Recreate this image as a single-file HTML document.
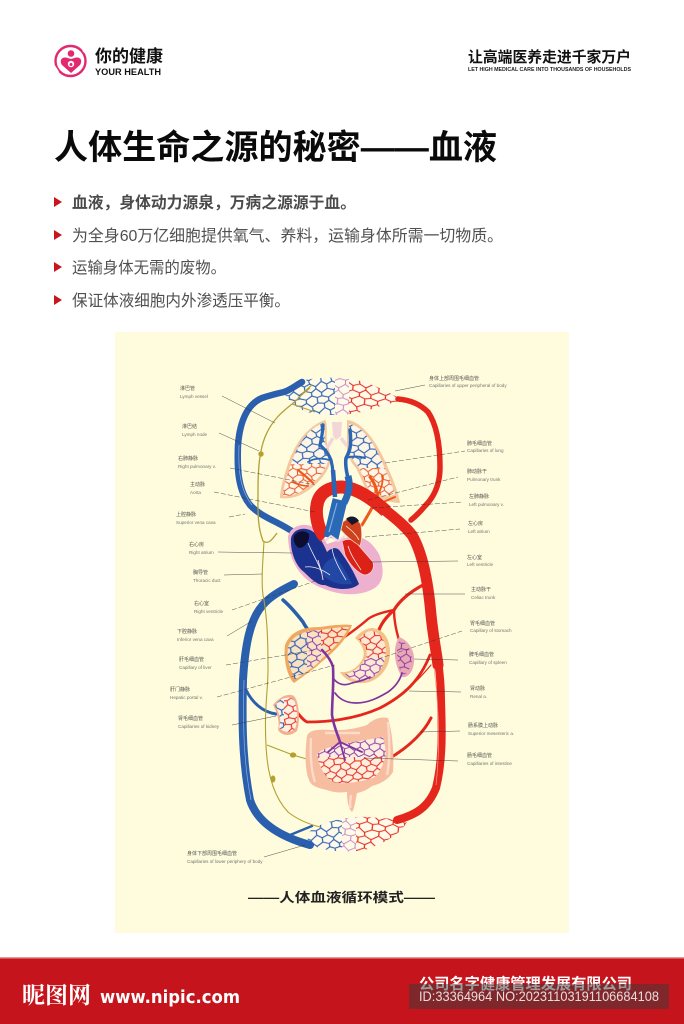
<!DOCTYPE html>
<html><head><meta charset="utf-8"><style>
html,body{margin:0;padding:0;background:#fff}
svg{display:block}
text{font-family:"Liberation Sans","Noto Sans CJK SC",sans-serif}
.cn{font-size:5px;fill:#444}
.en{font-size:4.6px;fill:#666}
.ld{stroke:#333;stroke-width:.5;fill:none;opacity:.85}
.dash{stroke-dasharray:5 2}
</style></head><body>
<svg width="684" height="1024" viewBox="0 0 684 1024" xmlns="http://www.w3.org/2000/svg">
<defs>
<filter id="b" x="-5%" y="-5%" width="110%" height="110%"><feGaussianBlur stdDeviation=".3"/></filter>
<filter id="t" x="-5%" y="-5%" width="110%" height="110%"><feGaussianBlur stdDeviation=".18"/></filter>
<path id="mesh" fill="none" d="M0 3L4.5 1L9 4L14 0L18 3M0 7L5 9L9 6L13 10L18 7M0 15L5 12L9 14L13 13L18 15M0 18L4 22L9 19L14 20L18 18M0 3V7M18 3V7M9 4V6M5 9V12M13 10V13M0 15V18M18 15V18M9 14V19M4 22L4.5 25M14 20V24M4 -2L4.5 1M14 -4V0"/>
<pattern id="nr" width="18" height="24" patternUnits="userSpaceOnUse" patternTransform="rotate(6) scale(1.45 1.1)"><use href="#mesh" stroke="#e6281c" stroke-width=".85"/></pattern>
<pattern id="nb" width="18" height="24" patternUnits="userSpaceOnUse" patternTransform="rotate(-8) scale(1.25 1.1)"><use href="#mesh" stroke="#2c5fb0" stroke-width=".95"/></pattern>
<pattern id="np" width="18" height="24" patternUnits="userSpaceOnUse" patternTransform="rotate(4) scale(1.1 1)"><use href="#mesh" stroke="#8a3aa8" stroke-width=".95"/></pattern>
<pattern id="nm" width="18" height="24" patternUnits="userSpaceOnUse" patternTransform="rotate(5) scale(1.25 1.05)"><use href="#mesh" stroke="#c583c4" stroke-width=".8"/></pattern>
<pattern id="nr2" width="18" height="24" patternUnits="userSpaceOnUse" patternTransform="rotate(-10) scale(1.15 1)"><use href="#mesh" stroke="#e6281c" stroke-width=".95"/></pattern>
<pattern id="no" width="18" height="24" patternUnits="userSpaceOnUse" patternTransform="rotate(-5) scale(1.05 1)"><use href="#mesh" stroke="#e9521e" stroke-width=".95"/></pattern>
<clipPath id="cTop"><path d="M284 393C292 387 298 382 305 380C320 377 340 377 355 380C368 382 378 387 403 400C392 403 385 405 377 407C365 412 350 415 337 415C325 415 315 414 307 412C298 408 292 405 284 393Z"/></clipPath>
<clipPath id="cBot"><path d="M309 832C318 823 345 816 367 817L408 820C402 832 390 841 365 850C345 853 325 852 307 843Z"/></clipPath>
<clipPath id="cLL"><path d="M323 423C305 430 295 450 289 470C285 482 283 490 283 496C295 497 305 490 316 480C322 474 326 468 328 462C329 455 327 448 325 444C324 435 326 425 323 423Z"/></clipPath>
<clipPath id="cRL"><path d="M349 424C362 425 375 445 382 462C388 475 392 485 395 494C388 498 378 495 370 492C366 484 362 474 358 466C352 460 348 452 349 444Z"/></clipPath>
<clipPath id="cLiv"><path d="M288 647C292 636 302 631 320 630C332 628 342 627 349 627C340 645 325 655 316 665L295 680C291 670 286 660 288 647Z"/></clipPath>
<clipPath id="cSt"><path d="M372 631C380 632 385 640 386 650C386 665 378 676 368 680C358 682 348 678 345 674C352 673 360 668 366 658C368 652 366 644 358 640C362 635 366 631 372 631Z"/></clipPath>
<clipPath id="cSp"><path d="M400 640C406 642 412 650 412 660C411 668 407 675 402 675C398 665 394 650 400 640Z"/></clipPath>
<clipPath id="cKid"><path d="M275 706C279 698 288 696 293 699C298 705 298 722 295 729C290 733 283 733 279 727C282 720 279 712 275 706Z"/></clipPath>
<clipPath id="cInt"><path d="M317 755C320 748 335 745 383 737C386 748 386 755 385 758C382 768 378 775 373 778C360 782 345 784 337 783C328 782 320 770 317 755Z"/></clipPath>
</defs>
<rect width="684" height="1024" fill="#fff"/>

<!-- header -->
<circle cx="70.500" cy="61" r="15" fill="none" stroke="#e2286e" stroke-width="2.400"/>
<path d="M83 50L88 55M54 66L58 72" stroke="#fff" stroke-width="2.200"/>
<circle cx="71" cy="53.500" r="3.300" fill="#e2286e"/>
<path d="M71 73L62 65C59 60 62 57 66 57.500L71 59L76 57.500C80 57 83 60 80 65Z" fill="#e2286e"/>
<circle cx="71" cy="64" r="3.200" fill="#fff"/>
<circle cx="71" cy="64.500" r="1.500" fill="#e2286e"/>
<text x="95" y="62" font-size="17" font-weight="700" fill="#111" textLength="68" lengthAdjust="spacingAndGlyphs">你的健康</text>
<text x="95" y="75" font-size="9.500" font-weight="700" fill="#111" textLength="66" lengthAdjust="spacingAndGlyphs">YOUR HEALTH</text>
<text x="468" y="62" font-size="14.800" font-weight="700" fill="#111" textLength="163" lengthAdjust="spacingAndGlyphs">让高端医养走进千家万户</text>
<text x="468" y="71" font-size="5.600" font-weight="700" fill="#222" textLength="163" lengthAdjust="spacingAndGlyphs">LET HIGH MEDICAL CARE INTO THOUSANDS OF HOUSEHOLDS</text>

<!-- title -->
<text x="54" y="159" font-size="34" font-weight="700" fill="#0a0a0a" textLength="443" lengthAdjust="spacingAndGlyphs">人体生命之源的秘密——血液</text>

<!-- bullets -->
<g fill="#c9151c"><path d="M54 197L62 202L54 207Z"/><path d="M54 230L62 235L54 240Z"/><path d="M54 262L62 267L54 272Z"/><path d="M54 295L62 300L54 305Z"/></g>
<text x="72" y="208" font-size="15.800" font-weight="700" fill="#4a4a4a" textLength="284" lengthAdjust="spacingAndGlyphs">血液，身体动力源泉，万病之源源于血。</text>
<text x="72" y="241" font-size="15.800" fill="#505050" textLength="431" lengthAdjust="spacingAndGlyphs">为全身60万亿细胞提供氧气、养料，运输身体所需一切物质。</text>
<text x="72" y="273" font-size="15.800" fill="#505050" textLength="154" lengthAdjust="spacingAndGlyphs">运输身体无需的废物。</text>
<text x="72" y="306" font-size="15.800" fill="#505050" textLength="218" lengthAdjust="spacingAndGlyphs">保证体液细胞内外渗透压平衡。</text>

<!-- panel -->
<rect x="115" y="332" width="454" height="601" fill="#fefcdc"/>

<g filter="url(#b)">
<!-- top bed -->
<path d="M284 393C292 387 298 382 305 380C320 377 340 377 355 380C368 382 378 387 403 400C392 403 385 405 377 407C365 412 350 415 337 415C325 415 315 414 307 412C298 408 292 405 284 393Z" fill="#fffbe8"/>
<g clip-path="url(#cTop)">
<rect x="280" y="372" width="55" height="46" fill="url(#nb)"/>
<rect x="335" y="372" width="14" height="46" fill="url(#nm)"/>
<rect x="349" y="372" width="58" height="46" fill="url(#nr)"/>
</g>
<!-- bottom bed -->
<path d="M309 832C318 823 345 816 367 817L408 820C402 832 390 841 365 850C345 853 325 852 307 843Z" fill="#fffbe8"/>
<g clip-path="url(#cBot)">
<rect x="300" y="812" width="42" height="45" fill="url(#nb)"/>
<rect x="342" y="812" width="14" height="45" fill="url(#nm)"/>
<rect x="356" y="812" width="56" height="45" fill="url(#nr)"/>
</g>

<!-- blue main vessels -->
<g fill="none" stroke="#2a5fae" stroke-linecap="round">
<path d="M302 382C295 386 290 390 284 392C275 394 268 396 262 398C248 404 240 420 238 445C237 470 238 490 250 505C262 518 280 522 296 534" stroke-width="6.500"/>
<path d="M294 584C282 590 270 596 262 606C250 620 245 645 243 680C242 720 242 760 250 800C258 825 285 838 310 845" stroke-width="8"/>
<path d="M283 600C290 606 296 613 303 622C305 626 307 628 309 632" stroke-width="3.500"/>
<path d="M246 690C252 702 262 712 276 714" stroke-width="3"/>
<path d="M290 835L312 826" stroke-width="2.400"/>
</g>
<g fill="none" stroke="#a8c4e8" stroke-width=".7" opacity=".8">
<path d="M239 445C238 470 240 490 252 505"/><path d="M244 680C243 720 243 760 251 800"/>
</g>

<!-- red main vessels -->
<g fill="none" stroke="#e4261c" stroke-linecap="round">
<path d="M398 399C410 400 420 404 428 412C437 425 440 445 440 467C440 485 434 497 425 506C420 512 416 516 411 520" stroke-width="5.500"/>
<path d="M385 510C395 518 404 525 412 535C422 552 428 580 431 615C433 635 436 650 438 665" stroke-width="11"/>
<path d="M438 660C440 675 441 690 441 700C442 730 443 760 436 788C428 808 415 815 397 820" stroke-width="8"/>
<path d="M423 585C410 592 400 600 394 610C385 618 380 625 378 633" stroke-width="3.200"/>
<path d="M394 610C394 620 396 630 399 640" stroke-width="2.400"/>
<path d="M394 610C385 612 375 614 368 619C358 628 345 637 330 647" stroke-width="2.400"/>
<path d="M430 655C420 680 405 695 380 708C360 717 335 722 307 722C303 720 300 716 297 712" stroke-width="2.800"/>
<path d="M431 718C425 730 412 745 390 758C384 765 380 769 375 773" stroke-width="3"/>
<path d="M431 665C420 678 412 686 405 690" stroke-width="1.200"/>
</g>
<path d="M434 668C438 700 441 740 436 785" fill="none" stroke="#ff9a80" stroke-width=".7"/>

<!-- lymph -->
<g fill="none" stroke="#b39f35" stroke-width="1.100">
<path d="M312 385C303 392 298 400 292 404C282 412 272 420 265 437C260 450 258 465 258 490C258 510 257 525 263 541C268 545 272 540 277 533" stroke-width="1.300"/>
<path d="M264 541C263 560 261 580 263 595C268 620 268 650 268 670C268 690 264 710 266 745C267 770 272 795 288 812C298 820 308 824 320 827"/>
<path d="M267 745L293 755L320 763"/>
<path d="M292 404L315 412M298 398L310 388"/>
</g>
<g fill="#b79f2e"><circle cx="261" cy="454" r="2.700"/><ellipse cx="293" cy="755" rx="3.200" ry="2.600"/><ellipse cx="273" cy="779" rx="2.400" ry="3.500"/></g>

<!-- lungs -->
<path d="M325 420C303 428 292 450 286 470C282 482 280 492 280 498C295 500 307 493 318 482C324 476 328 470 330 463C331 455 329 448 327 444C326 435 328 423 325 420Z" fill="#f4c79e"/>
<g clip-path="url(#cLL)">
<rect x="283" y="420" width="50" height="80" fill="#fdf5e6"/>
<rect x="283" y="420" width="50" height="44" fill="url(#nb)"/>
<rect x="283" y="464" width="50" height="36" fill="url(#no)"/>
</g>
<path d="M347 420C362 421 377 443 385 461C392 477 398 490 400 503C390 503 378 498 368 494C364 485 360 476 356 468C350 462 346 452 347 444Z" fill="#f4c79e"/>
<g clip-path="url(#cRL)">
<rect x="345" y="420" width="55" height="80" fill="#fdf5e6"/>
<rect x="345" y="420" width="55" height="48" fill="url(#nb)"/>
<rect x="345" y="468" width="55" height="34" fill="url(#no)"/>
</g>
<path d="M332 422H342L341 436L336 440L333 436Z" fill="#f3d6d6"/>
<path d="M333 438L327 448M341 438L347 446" stroke="#f3d6d6" stroke-width="3.500"/>

<!-- pulmonary blue -->
<g fill="none" stroke="#2a66b5" stroke-linecap="round">
<path d="M333 490C333 480 334 472 331 460C328 452 323 448 320 445C322 436 323 430 323 425" stroke-width="3.200"/>
<path d="M330 460C322 458 314 458 308 462" stroke-width="1.800"/>
<path d="M348 478C346 470 345 464 346 458C349 452 352 448 350 430" stroke-width="3.500"/>
<path d="M346 458C352 456 358 456 365 458" stroke-width="2"/>
</g>
<!-- pulmonary orange -->
<g fill="none" stroke="#ee5a1c" stroke-linecap="round">
<path d="M362 525C368 515 373 507 377 498C378 490 374 482 370 477" stroke-width="3"/>
<path d="M372 508C380 503 388 500 395 497" stroke-width="2"/>
<path d="M377 498C380 490 384 483 382 476" stroke-width="1.800"/>
<path d="M313 483C308 478 303 474 298 470" stroke-width="2.200"/>
<path d="M308 486C302 486 297 484 292 482" stroke-width="1.600"/>
</g>

<!-- heart -->
<path d="M288 537C290 526 303 523 311 526C318 529 323 535 327 544L345 538C362 533 372 542 379 554C385 570 384 583 373 589C358 597 338 595 322 588C305 582 289 566 288 537Z" fill="#eeb0cf"/>
<path d="M291 538C294 528 305 527 312 531C320 536 324 545 327 552C332 547 337 547 340 551C348 562 354 572 359 584C352 591 335 590 325 585C318 586 310 578 304 572C296 566 290 552 291 538Z" fill="#1b338f"/>
<path d="M294 536C298 530 305 530 309 534C310 541 305 548 299 548C295 546 293 541 294 536Z" fill="#0a0f33"/>
<path d="M321 572C325 580 338 586 352 584C348 575 342 565 336 557C330 558 324 562 321 572Z" fill="#2447a4"/>
<path d="M318 560C320 568 322 572 323 580" stroke="#f3c7d8" stroke-width="1" fill="none"/>
<path d="M342 541C350 537 356 541 360 547L373 562C375 570 370 575 364 575C357 572 350 565 345 555Z" fill="#dc2019" stroke="#f7d3dd" stroke-width=".8"/>
<path d="M343 522C348 517 358 518 361 525C362 535 362 540 360 546C352 541 345 535 341 530Z" fill="#cf3f1a" stroke="#f6d9c8" stroke-width=".7"/>
<path d="M346 519C350 515 356 516 359 521L352 525Z" fill="#17172f"/>
<!-- arch -->
<path d="M325 537C318 530 315 515 317 505C319 492 330 487 342 487C356 488 370 497 386 511" fill="none" stroke="#e4261c" stroke-width="13"/>
<!-- great veins -->
<path d="M340 500C337 512 334 525 331 538" fill="none" stroke="#2a69b5" stroke-width="15"/>
<path d="M337 503L329 532" fill="none" stroke="#7fb0e0" stroke-width="1.200"/>
<path d="M348 476C351 487 348 495 344 503" fill="none" stroke="#2a69b5" stroke-width="7"/>
<path d="M333 470L335 497" fill="none" stroke="#2a66b5" stroke-width="4.500"/>
<path d="M325 541L331 536L338 541L345 536" fill="none" stroke="#f7d8e2" stroke-width="2"/>
<g fill="none" stroke="#fff" stroke-width=".8" opacity=".9">
<path d="M308 543C312 553 318 562 322 573"/><path d="M305 567C312 566 320 568 330 575"/><path d="M332 548C333 558 340 570 346 580"/><path d="M348 546C351 556 356 562 361 570"/><path d="M346 526C351 530 356 534 359 540"/>
</g>

<!-- liver -->
<path d="M285 645C290 633 300 627 320 627C332 625 345 624 352 625C345 645 325 658 316 667L294 683C288 678 283 660 285 645Z" fill="#f0a860"/>
<g clip-path="url(#cLiv)"><rect x="285" y="625" width="70" height="60" fill="#f8e3c4"/><rect x="285" y="625" width="22" height="60" fill="url(#nb)"/><rect x="307" y="625" width="14" height="60" fill="url(#np)"/><rect x="321" y="625" width="32" height="60" fill="url(#nr2)"/></g>

<!-- stomach -->
<path d="M373 628C384 630 389 638 390 650C391 665 382 678 369 682C358 685 346 682 340 672C350 673 358 668 363 658C365 652 363 645 355 638C360 632 366 628 373 628Z" fill="#f4c188"/>
<g clip-path="url(#cSt)"><rect x="340" y="628" width="50" height="60" fill="#fde9d4"/><rect x="340" y="628" width="52" height="30" fill="url(#nr2)"/><rect x="340" y="658" width="52" height="28" fill="url(#np)"/></g>

<!-- spleen -->
<path d="M399 637C408 640 415 650 414 662C413 672 408 678 402 677C396 668 391 650 399 637Z" fill="#e9a8b4"/>
<g clip-path="url(#cSp)"><rect x="394" y="640" width="20" height="36" fill="url(#np)"/></g>

<!-- kidney -->
<path d="M273 705C280 696 289 693 294 696C300 703 300 723 297 731C291 736 283 737 278 730C280 722 277 712 273 705Z" fill="#f2b090"/>
<g clip-path="url(#cKid)"><rect x="272" y="694" width="28" height="44" fill="#fdf1e2"/><rect x="272" y="694" width="12" height="44" fill="url(#nb)"/><rect x="284" y="694" width="16" height="44" fill="url(#nr2)"/></g>

<!-- intestines -->
<path d="M307 736C309 730 318 729 330 730C345 731 358 728 367 725C372 720 380 716 388 718C393 735 394 755 393 772C388 780 380 784 372 786C367 790 362 792 357 793C355 803 354 810 352 812C348 808 347 800 347 792C338 793 332 792 327 790C318 788 312 786 310 782C306 775 304 760 307 736Z" fill="#f6bda0"/>
<path d="M311 738C310 755 311 770 315 782M388 722C390 745 390 760 387 775M351 795C350 802 350 806 350.500 808M325 733H360" fill="none" stroke="#fbdcc8" stroke-width="2.400"/>
<path d="M317 755C320 748 335 745 383 737C386 748 386 755 385 758C382 768 378 775 373 778C360 782 345 784 337 783C328 782 320 770 317 755Z" fill="#fdeede"/>
<g clip-path="url(#cInt)"><rect x="315" y="735" width="72" height="22" fill="url(#np)"/><rect x="315" y="757" width="72" height="28" fill="url(#nr2)"/></g>

<!-- portal purple -->
<g fill="none" stroke="#7f35a0" stroke-linecap="round">
<path d="M322 650C326 654 331 660 333 667C334 685 332 700 332 715C334 728 338 735 340 742" stroke-width="2.600"/>
<path d="M340 742L328 752M340 742L345 760M340 742L362 752" stroke-width="1.800"/>
<path d="M333 678C338 685 345 686 352 683C360 681 365 680 370 677" stroke-width="1.700"/>
<path d="M335 693C340 700 348 703 356 703C368 703 378 698 388 692C395 687 400 680 402 673" stroke-width="1.700"/>
</g>

<!-- leader lines -->
<g class="ld">
<path d="M222 396L275 423"/><path d="M219 433L259 451"/>
<path class="dash" d="M230 468L315 485"/><path class="dash" d="M214 492L315 512"/>
<path class="dash" d="M229 517L245 514"/><path d="M218 552L292 553"/>
<path d="M224 575L262 574"/><path class="dash" d="M232 610L318 580"/>
<path d="M227 636L252 621"/><path class="dash" d="M226 665L315 650"/>
<path class="dash" d="M217 697L335 665"/><path d="M232 725L276 716"/>
<path d="M264 857L305 845"/>
<path d="M395 391L425 385"/><path class="dash" d="M385 463L465 451"/>
<path class="dash" d="M368 500L458 477"/><path class="dash" d="M372 508L463 502"/>
<path class="dash" d="M365 537L460 529"/><path d="M370 562L458 561"/>
<path d="M405 594L465 594"/><path class="dash" d="M378 659L462 631"/>
<path d="M414 659L458 660"/><path d="M409 691L461 692"/>
<path d="M420 732L460 731"/><path d="M364 758L458 761"/>
</g>
</g>

<!-- labels -->
<g opacity=".9" filter="url(#t)">
<text class="cn" x="180" y="390">淋巴管</text><text class="en" x="180" y="398">Lymph vessel</text>
<text class="cn" x="182" y="428">淋巴结</text><text class="en" x="182" y="436">Lymph node</text>
<text class="cn" x="178" y="460">右肺静脉</text><text class="en" x="178" y="468">Right pulmonary v.</text>
<text class="cn" x="190" y="486">主动脉</text><text class="en" x="190" y="494">Aorta</text>
<text class="cn" x="176" y="516">上腔静脉</text><text class="en" x="176" y="524">Superior vena cava</text>
<text class="cn" x="189" y="546">右心房</text><text class="en" x="189" y="554">Right atrium</text>
<text class="cn" x="193" y="574">胸导管</text><text class="en" x="193" y="582">Thoracic duct</text>
<text class="cn" x="194" y="605">右心室</text><text class="en" x="194" y="613">Right ventricle</text>
<text class="cn" x="177" y="633">下腔静脉</text><text class="en" x="177" y="641">Inferior vena cava</text>
<text class="cn" x="179" y="661">肝毛细血管</text><text class="en" x="179" y="669">Capillary of liver</text>
<text class="cn" x="170" y="691">肝门静脉</text><text class="en" x="170" y="699">Hepatic portal v.</text>
<text class="cn" x="178" y="720">肾毛细血管</text><text class="en" x="178" y="728">Capillaries of kidney</text>
<text class="cn" x="187" y="855">身体下部周围毛细血管</text><text class="en" x="187" y="863">Capillaries of lower periphery of body</text>
<text class="cn" x="429" y="380">身体上部周围毛细血管</text><text class="en" x="429" y="387">Capillaries of upper peripheral of body</text>
<text class="cn" x="467" y="445">肺毛细血管</text><text class="en" x="467" y="452">Capillaries of lung</text>
<text class="cn" x="467" y="473">肺动脉干</text><text class="en" x="467" y="481">Pulmonary trunk</text>
<text class="cn" x="469" y="498">左肺静脉</text><text class="en" x="469" y="506">Left pulmonary v.</text>
<text class="cn" x="468" y="525">左心房</text><text class="en" x="468" y="533">Left atrium</text>
<text class="cn" x="467" y="559">左心室</text><text class="en" x="467" y="566">Left ventricle</text>
<text class="cn" x="471" y="591">主动脉干</text><text class="en" x="471" y="599">Celiac trunk</text>
<text class="cn" x="470" y="625">胃毛细血管</text><text class="en" x="470" y="632">Capillary of stomach</text>
<text class="cn" x="469" y="656">脾毛细血管</text><text class="en" x="469" y="664">Capillary of spleen</text>
<text class="cn" x="470" y="690">肾动脉</text><text class="en" x="470" y="698">Renal a.</text>
<text class="cn" x="468" y="727">肠系膜上动脉</text><text class="en" x="468" y="735">Superior mesenteric a.</text>
<text class="cn" x="467" y="757">肠毛细血管</text><text class="en" x="467" y="765">Capillaries of intestine</text>
</g>

<text x="248" y="902" font-size="13" font-weight="700" fill="#222" textLength="187" lengthAdjust="spacingAndGlyphs">——人体血液循环模式——</text>

<!-- footer -->
<rect x="0" y="958" width="684" height="66" fill="#c6141c"/>
<rect x="0" y="957" width="684" height="1.500" fill="#e59a98"/>
<text x="22" y="1003" font-size="23" font-weight="700" fill="#fff" style='font-family:"Liberation Serif","Noto Serif CJK SC",serif' textLength="69" lengthAdjust="spacingAndGlyphs">昵图网</text>
<text x="100" y="1003" font-size="18" font-weight="700" fill="#fff" style='font-family:"DejaVu Sans",sans-serif' textLength="140" lengthAdjust="spacingAndGlyphs">www.nipic.com</text>
<text x="419" y="989" font-size="15.200" font-weight="700" fill="#fff" textLength="213" lengthAdjust="spacingAndGlyphs">公司名字健康管理发展有限公司</text>
<rect x="409" y="984" width="260" height="25" fill="#3a3a3a" opacity=".5"/>
<text x="419" y="1001" font-size="14" fill="#e8dcdc" textLength="240" lengthAdjust="spacingAndGlyphs">ID:33364964 NO:20231103191106684108</text>
</svg>
</body></html>
